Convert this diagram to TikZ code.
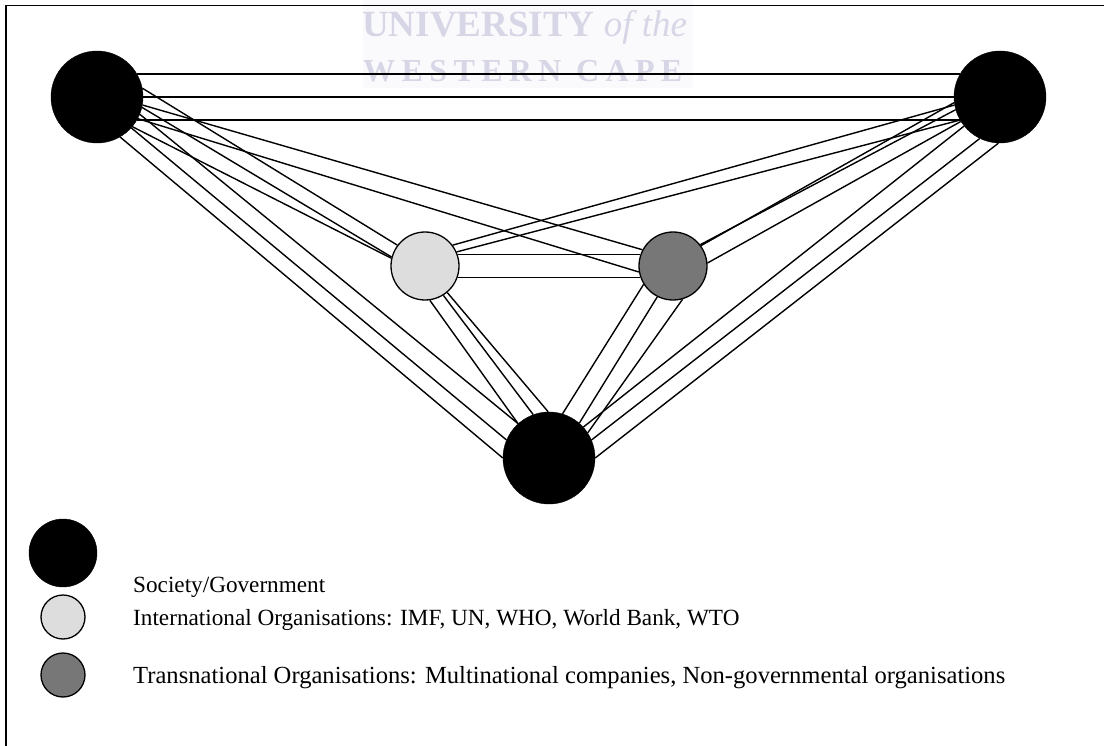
\documentclass[tikz,border=0pt]{standalone}
\usepackage{fontspec}
\setmainfont{Liberation Serif}
\definecolor{wmtext}{HTML}{D6D6E6}
\definecolor{wmback}{HTML}{FAFAFC}
\definecolor{intl}{HTML}{DDDDDD}
\definecolor{trans}{HTML}{777777}
\begin{document}
\begin{tikzpicture}[x=1pt,y=-1pt,
  actor/.style={circle,fill=black,draw=black,inner sep=0pt,minimum size=92pt},
  intlorg/.style={circle,fill=intl,draw=black,line width=1.3pt,inner sep=0pt,minimum size=68pt},
  transorg/.style={circle,fill=trans,draw=black,line width=1.3pt,inner sep=0pt,minimum size=68pt},
  tie/.style={draw=black,line width=1.4pt},
  legendtext/.style={anchor=base west,inner sep=0pt,font=\fontsize{23.2}{27}\selectfont},
  mark text/.style={anchor=base west,inner sep=0pt,text=wmtext}
]
\useasboundingbox (0,0) rectangle (1104,746);

% watermark behind everything
\fill[wmback] (363,0) rectangle (693,88);
\node[mark text,font=\fontsize{37}{37}\selectfont\bfseries] (wmtop) at (362,37)
  {UNIVERSITY \textmd{\textit{of the}}};
\node[mark text,font=\fontsize{32}{32}\selectfont\bfseries] (wmbottom) at (363,82)
  {\addfontfeature{LetterSpace=20}WESTERN CAPE};

% frame (top and left edges)
\draw[line width=1.5pt] (6,746) -- (6,5.5) -- (1104,5.5);

% actors
\node[actor] (tl) at (97,97) {};
\node[actor] (tr) at (1000,97) {};
\node[actor] (b) at (549,458) {};
\node[intlorg] (lg) at (425,266) {};
\node[transorg] (dg) at (673,266) {};

% society/government to society/government
\draw[tie] (tl.30) -- (tr.150);
\draw[tie] (tl.0) -- (tr.180);
\draw[tie] (tl.-30) -- (tr.-150);
\draw[tie] (tl.-60) -- (b.180);
\draw[tie] (tl.-42) -- (b.157);
\draw[tie] (tl.-22) -- (b.132);
\draw[tie] (tr.-92) -- (b.0);
\draw[tie] (tr.-116) -- (b.23);
\draw[tie] (tr.-141) -- (b.42);

% links to the international organisation
\draw[tie] (tl.11) -- (lg.143);
\draw[tie] (tl.-13) -- (lg.165);
\draw[tie] (tl.-40) -- (lg.167);
\draw[tie] (tr.190) -- (lg.37);
\draw[tie] (tr.210) -- (lg.24);
\draw[tie] (lg.-82) -- (b.132);
\draw[tie] (lg.-58) -- (b.110);
\draw[tie] (lg.-50) -- (b.91);

% links to the transnational organisation
\draw[tie] (tl.-10) -- (dg.152);
\draw[tie] (tl.-28) -- (dg.190);
\draw[tie] (tr.187) -- (dg.36);
\draw[tie] (tr.196) -- (dg.38);
\draw[tie] (tr.212) -- (dg.5);
\draw[tie] (dg.212) -- (b.73);
\draw[tie] (dg.243) -- (b.49);
\draw[tie] (dg.286) -- (b.33);

% between the two organisations
\draw[tie] (lg.19) -- (dg.161);
\draw[tie] (lg.-19) -- (dg.-161);

% legend
\node[actor,minimum size=68pt] (keyactor) at (63,553) {};
\node[intlorg,minimum size=44pt] (keyintl) at (63,617) {};
\node[transorg,minimum size=44pt] (keytrans) at (63,675) {};
\node[legendtext] (lbactor) at (133,592) {Society/Government};
\node[legendtext] (lbintl) at (133,625) {International Organisations: IMF, UN, WHO, World Bank, WTO};
\node[legendtext,font=\fontsize{24.6}{28}\selectfont] (lbtrans) at (133,683) {Transnational Organisations: Multinational companies, Non-governmental organisations};
\end{tikzpicture}
\end{document}
